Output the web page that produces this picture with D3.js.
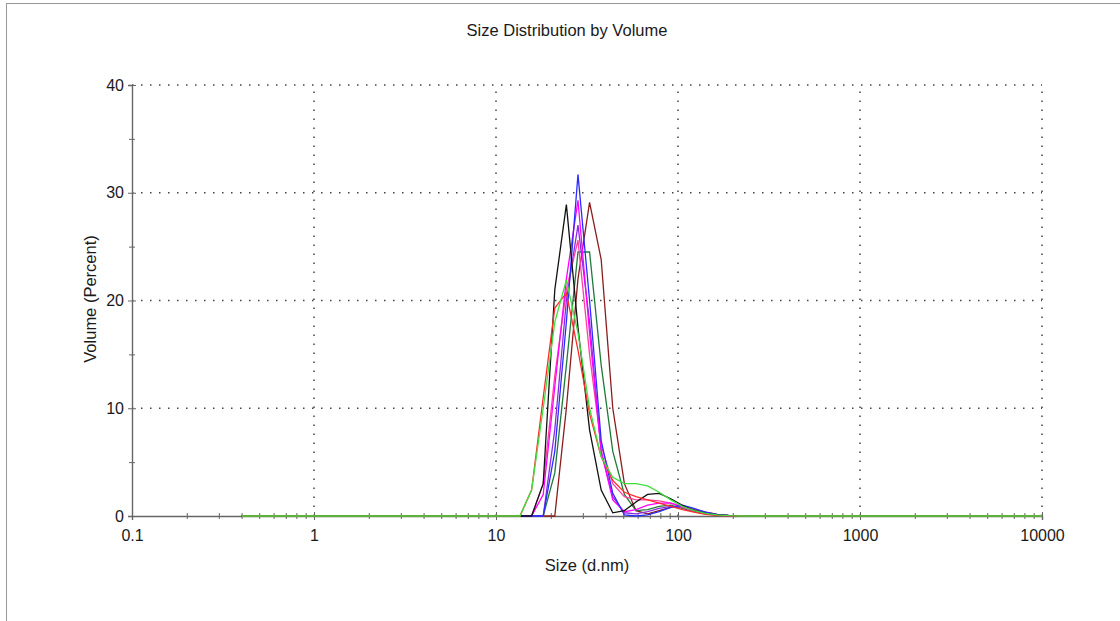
<!DOCTYPE html>
<html>
<head>
<meta charset="utf-8">
<script src="https://cdn.jsdelivr.net/npm/d3@7"></script>
<style>
  body { margin: 0; background: #fff; }
  svg { display: block; font-family: "Liberation Sans", Arial, sans-serif; }
</style>
</head>
<body>
<script>
// size bins (d.nm), 70 log spaced classes
const sizes = [0.4, 0.4632, 0.5365, 0.6213, 0.7195, 0.8332, 0.9649, 1.117, 1.294, 1.499,
  1.736, 2.01, 2.328, 2.696, 3.122, 3.615, 4.187, 4.849, 5.615, 6.503,
  7.531, 8.721, 10.1, 11.7, 13.54, 15.69, 18.17, 21.04, 24.36, 28.21,
  32.67, 37.84, 43.82, 50.75, 58.77, 68.06, 78.82, 91.28, 105.7, 122.4,
  141.8, 164.2, 190.1, 220.2, 255.0, 295.3, 342.0, 396.1, 458.7, 531.2,
  615.1, 712.4, 825.0, 955.4, 1106, 1281, 1484, 1718, 1990, 2305,
  2669, 3091, 3580, 4145, 4801, 5560, 6439, 7456, 8635, 10000];

const Z24 = [0,0,0,0,0,0,0,0,0,0,0,0,0,0,0,0,0,0,0,0,0,0,0,0];
const Z25 = [0,0,0,0,0,0,0,0,0,0,0,0,0,0,0,0,0,0,0,0,0,0,0,0,0];

// volume % for bins 13.54 ... 255 (the rest of each record is zero)
const maroon    = [0, 0, 0, 0, 10, 22, 29.1, 23.8, 10, 3, 0.5, 0.2, 0.5, 0.8, 0.9, 0.6, 0.35, 0.15, 0.05, 0, 0];
const darkGreen = [0, 0, 0, 4, 14, 24.5, 24.5, 14, 6, 2, 0.5, 0.6, 0.9, 1.0, 0.7, 0.4, 0.2, 0.08, 0.02, 0, 0];
const purple    = [0, 0, 0, 8, 20, 27, 18, 6, 1.8, 0.3, 0.2, 0.4, 0.7, 0.9, 0.8, 0.5, 0.25, 0.1, 0.03, 0, 0];
const hotPink   = [0, 0, 3, 13, 21, 25.6, 15, 6.5, 3.0, 1.8, 1.5, 1.5, 1.4, 1.2, 0.8, 0.45, 0.2, 0.08, 0.02, 0, 0];
const magenta   = [0, 0, 2, 12, 22, 29.3, 17, 6, 1.5, 0.4, 0.6, 1.0, 1.2, 1.2, 0.9, 0.5, 0.25, 0.1, 0.03, 0, 0];
const blue      = [0, 0, 0, 6, 18, 31.7, 20, 7, 2.1, 0.1, 0, 0.1, 0.4, 0.8, 1.0, 0.7, 0.35, 0.15, 0.05, 0, 0];
const black     = [0, 0, 3, 21, 28.9, 17.5, 8, 2.4, 0.3, 0.5, 1.3, 2.0, 2.1, 1.6, 1.0, 0.5, 0.25, 0.1, 0.03, 0, 0];
const red       = [0, 2.4, 11, 19.3, 20.7, 15.4, 9.5, 5.5, 3.3, 2.2, 1.8, 1.5, 1.2, 0.9, 0.6, 0.35, 0.15, 0.06, 0.02, 0, 0];
const lime      = [0, 2.4, 10, 18, 21.9, 17, 10, 5.5, 3.6, 3.0, 3.0, 2.8, 2.2, 1.5, 0.9, 0.5, 0.25, 0.1, 0.03, 0, 0];

const records = [
  {color: "#8b1c1c", values: Z24.concat(maroon, Z25)},
  {color: "#1f7a3a", values: Z24.concat(darkGreen, Z25)},
  {color: "#8a2be2", values: Z24.concat(purple, Z25)},
  {color: "#ff3fa0", values: Z24.concat(hotPink, Z25)},
  {color: "#ff00ff", values: Z24.concat(magenta, Z25)},
  {color: "#2b2bff", values: Z24.concat(blue, Z25)},
  {color: "#111111", values: Z24.concat(black, Z25)},
  {color: "#ff2a2a", values: Z24.concat(red, Z25)},
  {color: "#3ee03e", values: Z24.concat(lime, Z25)}
];

const xMajor = [0.1, 1, 10, 100, 1000, 10000];
const yMajor = [0, 10, 20, 30, 40];
const yMinor = [5, 15, 25, 35];

const W = 1120, H = 621;
const svg = d3.select("body").append("svg").attr("width", W).attr("height", H);

svg.append("rect").attr("x", 6.5).attr("y", 3.5).attr("width", W).attr("height", H)
  .attr("fill", "#fff").attr("stroke", "#999");

const x = d3.scaleLog().domain([0.1, 10000]).range([132, 1042]);
const y = d3.scaleLinear().domain([0, 40]).range([516, 85]);

const xMinor = [];
xMajor.slice(0, -1).forEach(d => { for (let m = 2; m < 10; m++) xMinor.push(d * m); });

// dotted grid
const grid = svg.append("g").attr("stroke", "#444").attr("stroke-width", 1.5)
  .attr("stroke-dasharray", "1.5,7.5");
grid.selectAll(".gx").data(xMajor.slice(1)).enter().append("line")
  .attr("x1", d => x(d)).attr("x2", d => x(d)).attr("y1", y(0)).attr("y2", y(40));
grid.selectAll(".gy").data(yMajor.slice(1)).enter().append("line")
  .attr("x1", x(0.1)).attr("x2", x(10000)).attr("y1", d => y(d)).attr("y2", d => y(d));

// axes
const axisColor = "#666";
const gx = svg.append("g").attr("transform", `translate(0,${y(0)})`)
  .call(d3.axisBottom(x).tickValues(xMajor).tickFormat(d => d3.format("")(d)).tickSize(4).tickPadding(10));
const gxm = svg.append("g").attr("transform", `translate(0,${y(0)})`)
  .call(d3.axisBottom(x).tickValues(xMinor).tickFormat("").tickSize(3));
const gy = svg.append("g").attr("transform", `translate(${x(0.1)},0)`)
  .call(d3.axisLeft(y).tickValues(yMajor).tickSize(4).tickPadding(4));
const gym = svg.append("g").attr("transform", `translate(${x(0.1)},0)`)
  .call(d3.axisLeft(y).tickValues(yMinor).tickFormat("").tickSize(3));

[gx, gxm].forEach(g => g.selectAll(".tick line").attr("y1", function () { return -d3.select(this).attr("y2"); }));
[gy, gym].forEach(g => g.selectAll(".tick line").attr("x1", function () { return -d3.select(this).attr("x2"); }));
[gx, gxm, gy, gym].forEach(g => {
  g.select(".domain").attr("stroke", axisColor).attr("stroke-width", 1.4);
  g.selectAll(".tick line").attr("stroke", axisColor);
  g.selectAll("text").attr("fill", "#1a1a1a").style("font-size", "16px")
    .style("font-family", "'Liberation Sans', Arial, sans-serif");
});
gxm.select(".domain").remove();
gym.select(".domain").remove();

// data lines (drawn over the axis, so the zero baseline shows in colour)
const line = d3.line().x((d, i) => x(sizes[i])).y(d => y(d));
svg.append("g").selectAll("path").data(records).enter().append("path")
  .attr("fill", "none").attr("stroke", d => d.color).attr("stroke-width", 1.3)
  .attr("d", d => line(d.values));

// titles
svg.append("text").attr("x", 567).attr("y", 36).attr("text-anchor", "middle")
  .style("font-size", "16.5px").attr("fill", "#1a1a1a").text("Size Distribution by Volume");
svg.append("text").attr("x", 587).attr("y", 571).attr("text-anchor", "middle")
  .style("font-size", "16.5px").attr("fill", "#1a1a1a").text("Size (d.nm)");
svg.append("text").attr("transform", "translate(96,299) rotate(-90)").attr("text-anchor", "middle")
  .style("font-size", "16.5px").attr("fill", "#1a1a1a").text("Volume (Percent)");
</script>
</body>
</html>
